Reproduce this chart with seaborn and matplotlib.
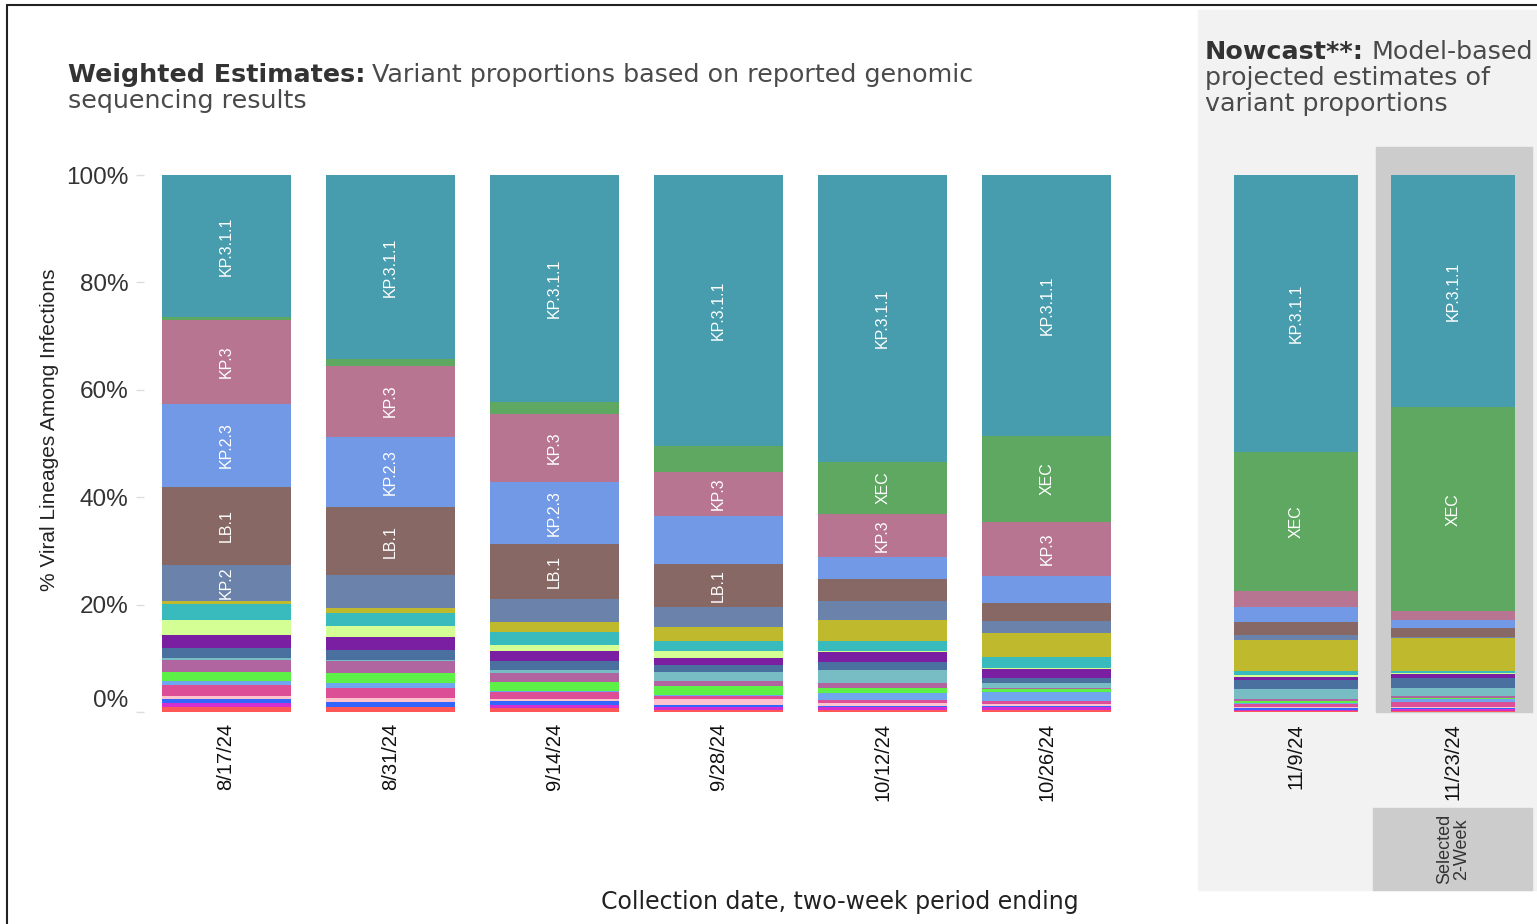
import pandas as pd
import matplotlib
matplotlib.use("Agg")
import matplotlib.pyplot as plt
from matplotlib.patches import Rectangle
from matplotlib.lines import Line2D
import seaborn as sns

# ----------------------------------------------------------------------------------------------
# Data: variant shares (%) per two-week period
# ----------------------------------------------------------------------------------------------
weighted_dates = ["8/17/24", "8/31/24", "9/14/24", "9/28/24", "10/12/24", "10/26/24"]
nowcast_dates = ["11/9/24", "11/23/24"]

# one list per lineage, 6 weighted periods then 2 nowcast periods (stack order bottom -> top)
minor_red = [0.9, 1.0, 0.8, 0.3, 0.35, 0.35, 0.15, 0.2]
minor_magenta = [0.75, 0.0, 0.5, 0.6, 0.55, 0.5, 0.15, 0.35]
minor_blue = [0.75, 0.85, 0.7, 0.45, 0.3, 0.25, 0.45, 0.2]
minor_lightpink = [0.55, 0.75, 0.4, 1.05, 0.45, 0.4, 0.2, 0.2]
minor_pink = [2.0, 1.8, 1.25, 0.5, 0.55, 0.6, 0.45, 0.9]
minor_skyblue = [0.9, 0.95, 0.3, 0.3, 1.35, 1.6, 0.35, 0.6]
minor_green = [1.55, 1.85, 1.6, 1.6, 0.95, 0.5, 0.35, 0.25]
minor_orchid = [2.35, 2.35, 1.7, 1.0, 0.95, 0.25, 0.3, 0.25]
minor_lightteal = [0.25, 0.2, 0.6, 1.6, 2.3, 0.9, 1.85, 1.5]
minor_steel = [1.95, 1.85, 1.6, 1.3, 1.55, 1.0, 1.65, 1.85]
minor_purple = [2.35, 2.35, 1.9, 1.35, 1.8, 1.7, 0.6, 0.75]
minor_lime = [2.9, 2.1, 1.2, 1.25, 0.2, 0.2, 0.3, 0.2]
minor_cyan = [2.9, 2.35, 2.3, 1.9, 1.9, 2.0, 0.9, 0.3]
minor_olive = [0.6, 0.95, 2.0, 2.55, 3.85, 4.45, 5.75, 6.3]
kp2 = [6.7, 6.15, 4.2, 3.85, 3.55, 2.3, 0.95, 0.2]
lb1 = [14.5, 12.6, 10.25, 8.0, 4.2, 3.3, 2.3, 1.5]
kp23 = [15.5, 13.2, 11.6, 8.9, 4.1, 5.1, 2.9, 1.6]
kp3 = [15.6, 13.2, 12.6, 8.2, 8.0, 10.05, 2.9, 1.6]
xec = [0.55, 1.25, 2.2, 4.85, 9.7, 16.0, 26.0, 38.0]
kp311 = [26.45, 34.25, 42.3, 50.45, 53.4, 48.55, 51.5, 43.25]

variant_names = ["minor_red", "minor_magenta", "minor_blue", "minor_lightpink", "minor_pink",
                 "minor_skyblue", "minor_green", "minor_orchid", "minor_lightteal", "minor_steel",
                 "minor_purple", "minor_lime", "minor_cyan", "minor_olive",
                 "KP.2", "LB.1", "KP.2.3", "KP.3", "XEC", "KP.3.1.1"]
variant_shares = [minor_red, minor_magenta, minor_blue, minor_lightpink, minor_pink,
                  minor_skyblue, minor_green, minor_orchid, minor_lightteal, minor_steel,
                  minor_purple, minor_lime, minor_cyan, minor_olive,
                  kp2, lb1, kp23, kp3, xec, kp311]
variant_colors = ["#FF5757", "#D32FD0", "#3466FF", "#FFC3CD", "#DC4F97",
                  "#70A6EE", "#5DF046", "#B064A0", "#78BCC4", "#4A70A0",
                  "#7A1FA2", "#D3FF94", "#39BBBE", "#BFBA2D",
                  "#6B83AA", "#876864", "#7199E6", "#B77592", "#5FA862", "#479DAD"]
labelled = ["KP.2", "LB.1", "KP.2.3", "KP.3", "XEC", "KP.3.1.1"]

# long table + cumulative height for the stacked bars
all_dates = weighted_dates + nowcast_dates
rows = []
for name, shares in zip(variant_names, variant_shares):
    for d, v in zip(all_dates, shares):
        rows.append({"date": d, "variant": name, "pct": v})
df = pd.DataFrame(rows)
df["cum"] = df.groupby("date")["pct"].cumsum()

# ----------------------------------------------------------------------------------------------
# Plot
# ----------------------------------------------------------------------------------------------
sns.set_theme(style="white")
narrow = ["Liberation Sans", "DejaVu Sans"]
plt.rcParams["font.family"] = ["DejaVu Sans"]

W, H = 1537, 924
fig = plt.figure(figsize=(W / 100, H / 100), dpi=100)
fig.patch.set_facecolor("white")


def fx(px):
    return px / W


def fy(py):
    return 1 - py / H


# grey nowcast panel, highlight column and "selected" box
fig.add_artist(Rectangle((fx(1198), fy(890)), fx(1537 - 1198), (890 - 10) / H,
                         transform=fig.transFigure, color="#F2F2F2", zorder=-3))
fig.add_artist(Rectangle((fx(1376), fy(712)), fx(1532 - 1376), (712 - 147) / H,
                         transform=fig.transFigure, color="#CCCCCC", zorder=-2))
fig.add_artist(Rectangle((fx(1373), fy(890)), fx(1532 - 1373), (890 - 808) / H,
                         transform=fig.transFigure, color="#CCCCCC", zorder=-2))
fig.text(fx(1453), fy(849), "Selected\n2-Week", rotation=90, ha="center", va="center",
         fontsize=13, color="#333333", family=narrow, linespacing=1.0)

# outer frame (left and top edges visible)
fig.add_artist(Line2D([fx(7), fx(7)], [0, fy(5)], transform=fig.transFigure, color="#222222", lw=1.5))
fig.add_artist(Line2D([fx(7), 1], [fy(5), fy(5)], transform=fig.transFigure, color="#222222", lw=1.5))

ax_w = fig.add_axes([fx(144), fy(712), fx(1129 - 144), (712 - 175) / H])
ax_n = fig.add_axes([fx(1217.5), fy(712), fx(1531.5 - 1217.5), (712 - 175) / H])
ax_n.patch.set_alpha(0)

for ax, dates in [(ax_w, weighted_dates), (ax_n, nowcast_dates)]:
    sub = df[df["date"].isin(dates)]
    # draw cumulative heights from the top of the stack down so each layer covers the next
    for name, col in reversed(list(zip(variant_names, variant_colors))):
        layer = sub[sub["variant"] == name]
        sns.barplot(data=layer, x="date", y="cum", order=dates, color=col, saturation=1,
                    width=0.785, errorbar=None, linewidth=0, ax=ax)
    # in-bar lineage labels where they fit
    for i, d in enumerate(dates):
        for name in labelled:
            r = sub[(sub["date"] == d) & (sub["variant"] == name)].iloc[0]
            if r["pct"] >= 1.65 * len(name):
                ax.text(i, r["cum"] - r["pct"] / 2, name, rotation=90, ha="center", va="center",
                        color="white", fontsize=11.5, family=narrow)
    ax.set_ylim(0, 100)
    ax.set_xlim(-0.5, len(dates) - 0.5)
    ax.set_xlabel("")
    ax.set_ylabel("")
    sns.despine(ax=ax, left=True, bottom=True)
    ax.set_xticks(range(len(dates)))
    ax.set_xticklabels(dates, rotation=90, fontsize=14.5, family=narrow, color="#111111")
    ax.tick_params(axis="x", length=0, pad=8)

ax_w.set_yticks([0, 20, 40, 60, 80, 100])
ax_w.set_yticklabels([f"{v}%" for v in [0, 20, 40, 60, 80, 100]], fontsize=17.5,
                     family=["Liberation Sans", "DejaVu Sans"], color="#333333")
ax_w.tick_params(axis="y", length=6, color="#DDDDDD", width=1, pad=5, left=True)
ax_w.get_yticklabels()[0].set_va("bottom")
ax_n.set_yticks([])

# titles and axis labels
fs_title = 18.3
t1 = fig.text(fx(68), fy(75), "Weighted Estimates:", fontsize=fs_title, fontweight="bold",
              color="#333333", va="center")
fig.text(fx(68), fy(101), "sequencing results", fontsize=fs_title, color="#4A4A4A", va="center")
t2 = fig.text(fx(1205), fy(52), "Nowcast**:", fontsize=fs_title, fontweight="bold",
              color="#333333", va="center")
fig.text(fx(1205), fy(78), "projected estimates of", fontsize=fs_title, color="#4A4A4A", va="center")
fig.text(fx(1205), fy(104), "variant proportions", fontsize=fs_title, color="#4A4A4A", va="center")
fig.canvas.draw()
rend = fig.canvas.get_renderer()
fig.text(t1.get_window_extent(rend).x1 / W + fx(7), fy(75),
         "Variant proportions based on reported genomic", fontsize=fs_title, color="#4A4A4A", va="center")
fig.text(t2.get_window_extent(rend).x1 / W + fx(7), fy(52), "Model-based",
         fontsize=fs_title, color="#4A4A4A", va="center")

fig.text(fx(50), fy(430), "% Viral Lineages Among Infections", rotation=90, ha="center",
         va="center", fontsize=15, family=narrow, color="#222222")
fig.text(fx(840), fy(902), "Collection date, two-week period ending", ha="center", va="center",
         fontsize=17, color="#222222")

plt.savefig("out.png", dpi=100)
plt.close()
